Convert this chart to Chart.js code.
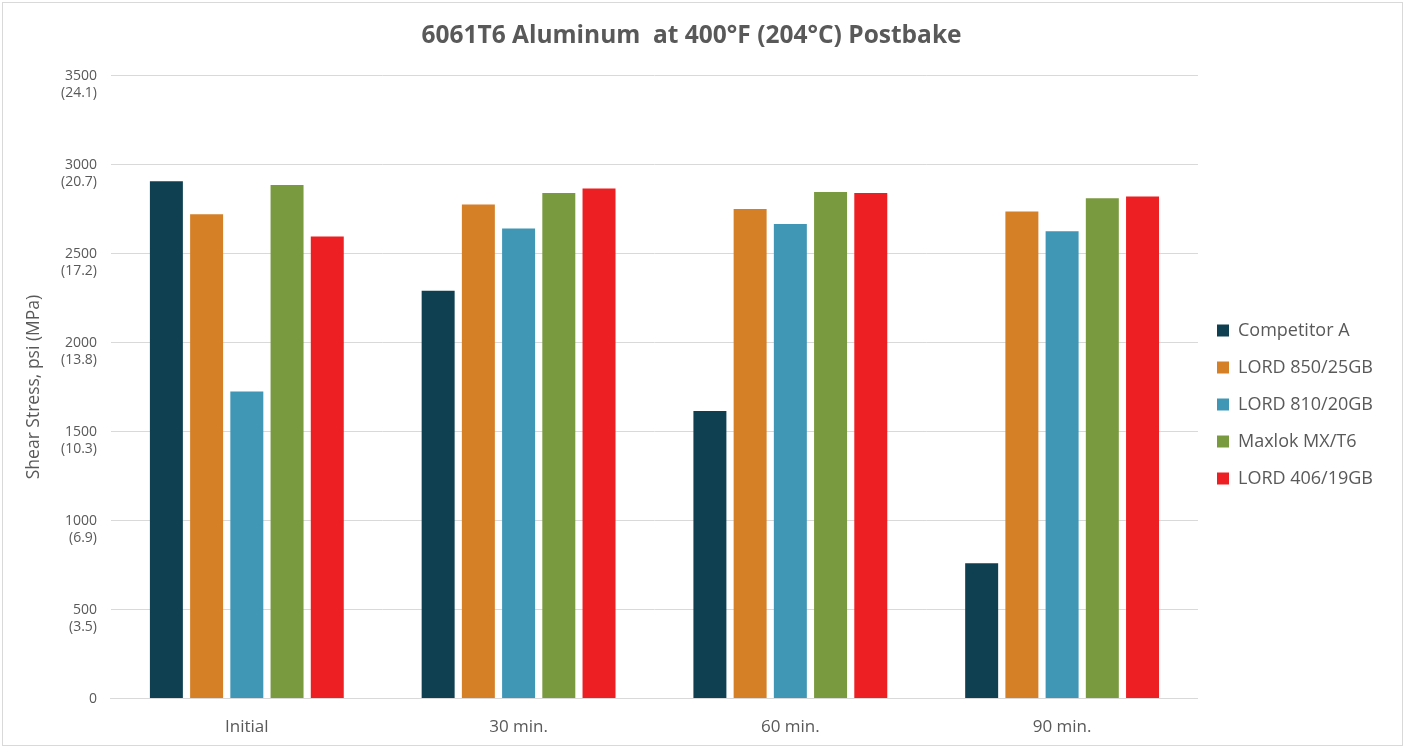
<!DOCTYPE html>
<html>
<head>
<meta charset="utf-8">
<script src="https://cdn.jsdelivr.net/npm/chart.js@4.4.1/dist/chart.umd.min.js"></script>
<style>
  html, body { margin: 0; padding: 0; background: #fff; overflow: hidden; }
  #wrap { position: absolute; left: 0; top: 0; width: 1404px; height: 748px; }
  #frame {
    position: absolute; left: 2px; top: 2px; width: 1401px; height: 744px;
    border: 1px solid #d9d9d9; box-sizing: border-box; pointer-events: none;
  }
  #chart { display: block; }
</style>
</head>
<body>
<div id="wrap"><canvas id="chart"></canvas></div>
<div id="frame"></div>
<script>
// Shear stress readings (psi) by postbake time
const categories = ['Initial', '30 min.', '60 min.', '90 min.'];

const competitorA = [2905, 2290, 1615, 760];
const lord850 = [2720, 2775, 2750, 2735];
const lord810 = [1725, 2640, 2665, 2625];
const maxlok = [2885, 2840, 2845, 2810];
const lord406 = [2595, 2865, 2840, 2820];

// Y-axis tick labels: psi and the matching MPa
const psiTicks = [0, 500, 1000, 1500, 2000, 2500, 3000, 3500];
const mpaTicks = ['', '(3.5)', '(6.9)', '(10.3)', '(13.8)', '(17.2)', '(20.7)', '(24.1)'];

const seriesNames = ['Competitor A', 'LORD 850/25GB', 'LORD 810/20GB', 'Maxlok MX/T6', 'LORD 406/19GB'];
const seriesColors = ['#0e4051', '#d57f27', '#3f96b5', '#7a9a3f', '#ee1f23'];
const seriesValues = [competitorA, lord850, lord810, maxlok, lord406];

const textGray = '#595959';
const gridGray = '#d9d9d9';

const datasets = seriesNames.map((name, i) => ({
    label: name,
    data: seriesValues[i],
    backgroundColor: seriesColors[i],
    borderWidth: 0,
    barPercentage: 0.82,
    categoryPercentage: 0.74
}));

const ctx = document.getElementById('chart').getContext('2d');
new Chart(ctx, {
    type: 'bar',
    data: { labels: categories, datasets },
    options: {
        responsive: true,
        maintainAspectRatio: false,
        animation: false,
        layout: { padding: { left: 0, right: 21, top: 0, bottom: 1 } },
        plugins: {
            title: {
                display: true,
                text: '6061T6 Aluminum  at 400°F (204°C) Postbake',
                color: textGray,
                font: { family: 'Open Sans', size: 24.5, weight: 'bold' },
                padding: { top: 21, bottom: 25 }
            },
            legend: {
                position: 'right',
                // blank title just pushes the items down to sit where the reference has them
                title: {
                    display: true,
                    text: ' ',
                    font: { size: 10 },
                    padding: { top: 50, bottom: 0 }
                },
                labels: {
                    color: textGray,
                    font: { family: 'Open Sans', size: 18 },
                    boxWidth: 12,
                    boxHeight: 12,
                    padding: 19
                }
            },
            tooltip: { enabled: false }
        },
        scales: {
            x: {
                grid: { display: false },
                border: { display: true, color: gridGray, width: 1 },
                ticks: {
                    color: textGray,
                    font: { family: 'Open Sans', size: 17 },
                    padding: 10
                }
            },
            y: {
                min: 0,
                max: 3500,
                afterBuildTicks: axis => {
                    axis.ticks = psiTicks.map(v => ({ value: v }));
                },
                grid: { color: gridGray, drawTicks: false },
                border: { display: false },
                ticks: {
                    color: textGray,
                    font: { family: 'Open Sans', size: 14 },
                    padding: 14,
                    labelOffset: 9,
                    callback: value => {
                        const i = psiTicks.indexOf(value);
                        return [String(value), mpaTicks[i]];
                    }
                },
                title: {
                    display: true,
                    text: 'Shear Stress, psi (MPa)',
                    color: textGray,
                    font: { family: 'Open Sans', size: 17.5 },
                    padding: { top: 24, bottom: 2 }
                }
            }
        }
    }
});
</script>
</body>
</html>
